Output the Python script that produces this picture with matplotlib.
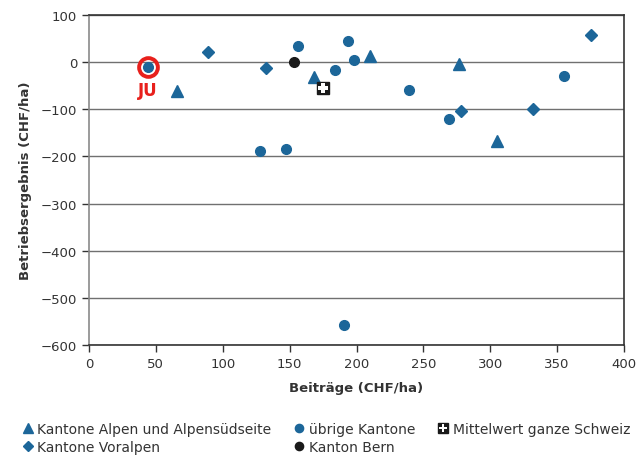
import matplotlib.pyplot as plt
from matplotlib.legend_handler import HandlerTuple

# data
alpen_x = [66, 168, 210, 277, 305]
alpen_y = [-62, -32, 14, -3, -168]
voralpen_x = [89, 132, 278, 332, 375]
voralpen_y = [22, -13, -103, -100, 57]
uebrige_x = [44, 128, 147, 156, 184, 194, 198, 191, 239, 269, 355]
uebrige_y = [-10, -189, -184, 34, -16, 45, 4, -558, -59, -121, -29]
bern_x = [153]
bern_y = [0]
mittel_x = [175]
mittel_y = [-54]
ju_x = [44]
ju_y = [-10]
x_ticks = [0, 50, 100, 150, 200, 250, 300, 350, 400]
y_ticks = [100, 0, -100, -200, -300, -400, -500, -600]

blue = "#1c6699"
plt.rcParams["font.family"] = ["DejaVu Sans"]

fig = plt.figure(figsize=(6.38, 4.56), dpi=100)
ax = fig.add_axes([89 / 638, 1 - 346 / 456, (624 - 89) / 638, (346 - 16) / 456])

ax.set_xlim(0, 400)
ax.set_ylim(-600, 100)
ax.set_xticks(x_ticks)
ax.set_yticks(y_ticks)
ax.set_yticklabels([f"{v}".replace("-", "\u2212") for v in y_ticks])
ax.tick_params(axis="both", direction="out", length=5, width=1, labelsize=9.5, color="#333333", labelcolor="#333333")
ax.yaxis.grid(True, color="#707070", linewidth=1)
ax.set_axisbelow(True)
for side in ["top", "right", "bottom"]:
    ax.spines[side].set_color("#333333")
    ax.spines[side].set_linewidth(1.2)
ax.spines["left"].set_color("#8a8a8a")
ax.spines["left"].set_linewidth(1.2)

h_alpen, = ax.plot(alpen_x, alpen_y, linestyle="", marker="^", markersize=8, color=blue)
h_vor, = ax.plot(voralpen_x, voralpen_y, linestyle="", marker="D", markersize=6.3, color=blue)
h_ueb, = ax.plot(uebrige_x, uebrige_y, linestyle="", marker="o", markersize=7, color=blue)
h_bern, = ax.plot(bern_x, bern_y, linestyle="", marker="o", markersize=7, color="#1a1a1a")
h_msq, = ax.plot(mittel_x, mittel_y, linestyle="", marker="s", markersize=9, color="#1a1a1a")
h_mpl, = ax.plot(mittel_x, mittel_y, linestyle="", marker="P", markersize=6.5, color="white", markeredgewidth=0)

# JU highlight
ax.plot(ju_x, ju_y, linestyle="", marker="o", markersize=13.5, markerfacecolor="none",
        markeredgecolor="#e8201c", markeredgewidth=2.8)
ax.annotate("JU", (ju_x[0], ju_y[0]), xytext=(0, -10), textcoords="offset points",
            ha="center", va="top", color="#e8201c", fontsize=12, fontweight="bold")

ax.set_xlabel("Beiträge (CHF/ha)", fontsize=9.5, fontweight="bold", color="#333333", labelpad=8)
ax.set_ylabel("Betriebsergebnis (CHF/ha)", fontsize=9.5, fontweight="bold", color="#333333", labelpad=6)

handles = [h_alpen, h_vor, h_ueb, h_bern, (h_msq, h_mpl)]
labels = ["Kantone Alpen und Alpensüdseite", "Kantone Voralpen", "übrige Kantone",
          "Kanton Bern", "Mittelwert ganze Schweiz"]
fig.legend(handles, labels, ncol=3, loc="lower left", bbox_to_anchor=(0.015, -0.025),
           frameon=False, fontsize=10, handlelength=0.8, handletextpad=0.3,
           columnspacing=1.6, labelspacing=0.3, labelcolor="#333333",
           handler_map={tuple: HandlerTuple(ndivide=1)}, markerscale=0.85)

fig.savefig("out.png", dpi=100)
plt.close(fig)
